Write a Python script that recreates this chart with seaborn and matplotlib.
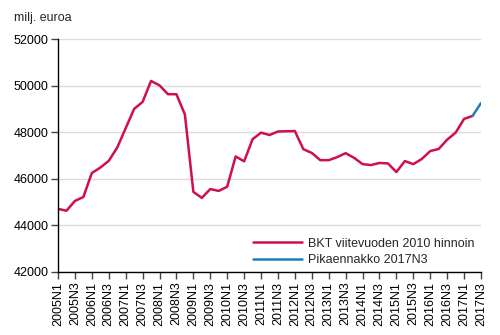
import matplotlib
matplotlib.use("Agg")
import matplotlib.pyplot as plt
import seaborn as sns
import pandas as pd
import numpy as np

quarters = [f"{y}N{q}" for y in range(2005, 2018) for q in range(1, 5)][:51]

bkt_values = [44710, 44630, 45050, 45220, 46250, 46480, 46770, 47340,
              48170, 49000, 49300, 50200, 50010, 49630, 49630, 48760,
              45440, 45180, 45560, 45480, 45660, 46960, 46750, 47700,
              47980, 47880, 48030, 48040, 48050, 47270, 47110, 46800,
              46800, 46930, 47100, 46900, 46630, 46590, 46680, 46660,
              46290, 46760, 46630, 46850, 47190, 47280, 47680, 47980,
              48570, 48700]
flash_quarters = ["2017N2", "2017N3"]
flash_values = [48700, 49250]

series_bkt = "BKT viitevuoden 2010 hinnoin"
series_flash = "Pikaennakko 2017N3"

df = pd.concat([
    pd.DataFrame({"x": [quarters.index(q) for q in quarters[:len(bkt_values)]],
                  "value": bkt_values, "series": series_bkt}),
    pd.DataFrame({"x": [quarters.index(q) for q in flash_quarters],
                  "value": flash_values, "series": series_flash}),
])

sns.set_theme(style="white")
plt.rcParams['font.family'] = ['Liberation Sans', 'DejaVu Sans']

fs = 9
fig = plt.figure(figsize=(5, 3.35), dpi=100)
ax = fig.add_axes([58/500, 1-272/335, (481-58)/500, (272-39)/335])

sns.lineplot(data=df, x="x", y="value", hue="series",
             palette={series_bkt: "#cf0f4e", series_flash: "#1c7fc0"},
             linewidth=1.8, ax=ax, legend=True)

ax.set_xlim(0, 50)
ax.set_ylim(42000, 52000)
ax.set_yticks(range(42000, 52001, 2000))
ax.set_yticklabels([str(v) for v in range(42000, 52001, 2000)], fontsize=fs)
ax.set_xticks(range(0, 51, 2))
ax.set_xticklabels(quarters[0:51:2], rotation=90, fontsize=fs)
ax.set_xlabel("")
ax.set_ylabel("")
ax.yaxis.grid(True, color="#dcdcdc", linewidth=1)
ax.xaxis.grid(False)
for s in ["top", "right"]:
    ax.spines[s].set_visible(False)
for s in ["left", "bottom"]:
    ax.spines[s].set_color("black")
    ax.spines[s].set_linewidth(1)
ax.tick_params(axis="both", which="both", length=5, width=1, color="#444444",
               direction="out", bottom=True, left=True, pad=2, labelcolor="black")

leg = ax.legend(loc="lower right", bbox_to_anchor=(0.985, 0.025), frameon=False,
                fontsize=fs, handlelength=3.9, handletextpad=0.5,
                labelspacing=0.35, borderaxespad=0.0, borderpad=0.0)
for line in leg.get_lines():
    line.set_linewidth(1.8)

fig.text(14/500, 1-18/335, "milj. euroa", fontsize=fs, va="center", ha="left")

fig.savefig("out.png", dpi=100)
